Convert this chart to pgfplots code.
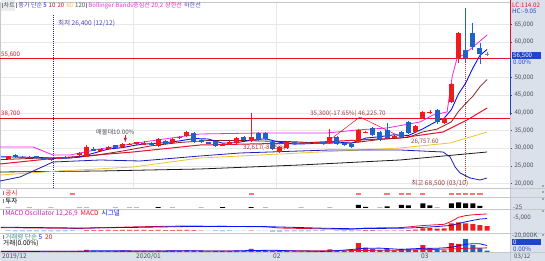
\documentclass[border=0pt]{standalone}
\usepackage{fontspec}
\setmainfont{Noto Sans CJK KR}
\usepackage{pgfplots}
\usepackage{pgfplotstable}
\pgfplotsset{compat=1.18}

\definecolor{stripbg}{HTML}{DAE1EB}
\definecolor{upred}{HTML}{EE1C1C}
\definecolor{dnblue}{HTML}{1F63C6}
\definecolor{ma5}{HTML}{0A14F0}
\definecolor{ma10}{HTML}{8A1E1E}
\definecolor{ma20}{HTML}{E8102A}
\definecolor{ma60}{HTML}{F2C230}
\definecolor{ma120}{HTML}{1A1A1A}
\definecolor{bbup}{HTML}{F028E6}
\definecolor{bblow}{HTML}{1E1EB4}
\definecolor{gridc}{HTML}{E8E8E8}
\definecolor{sepc}{HTML}{C4C8CC}
\definecolor{labc}{HTML}{4A525C}
\definecolor{boxc}{HTML}{1E46C8}
\definecolor{lowc}{HTML}{4848B8}
\definecolor{highc}{HTML}{A03C3C}
\definecolor{teal2}{HTML}{3C8C8C}

\newcommand\fs{\fontsize{6.6}{7}\selectfont}
\newcommand\fss{\fontsize{6.2}{7}\selectfont}
\newcommand\fh{\fontsize{6.1}{7}\selectfont}
\newcommand\bx{\textcolor{gray}{\rule[0.2pt]{1pt}{4.5pt}}\,}

\pgfplotstableread{
i o h l c
0 27000 27900 26900 27700
3 27400 27700 27200 27500
6 26800 27300 26400 27100
7 27100 27500 26900 27400
10 28000 29000 27900 28800
11 27600 30800 27400 30400
13 29300 30200 29100 29900
14 29700 30600 29500 30300
16 30400 31600 30200 31200
17 31000 31500 30800 31300
18 31100 31900 30900 31700
19 31000 32000 30800 31600
21 30700 33000 30500 32500
23 31600 33000 31400 32600
24 33000 33500 32600 33200
25 33500 34800 33300 34500
30 30800 31400 30600 31200
31 31200 32000 31000 31800
32 31500 33200 31300 32900
34 32000 40000 31800 33200
38 29000 30600 28700 30400
39 30100 32000 29900 31800
41 31300 31800 31100 31600
43 31400 31900 31200 31700
45 31500 35500 31300 33200
49 31800 35400 31600 35200
50 34500 35000 34300 34700
54 33000 33700 32800 33400
57 34600 36600 34400 36300
58 38600 40500 38400 40200
59 40000 40700 39800 40300
61 37200 38800 37000 38500
62 43100 48500 42800 48200
63 55500 62800 54100 62500
}\upT

\pgfplotstableread{
i o h l c
1 28100 28300 27200 27400
2 27600 27800 27300 27400
4 27800 27900 27000 27200
5 27300 27400 26800 27000
8 27500 27700 27100 27300
9 27600 27800 27200 27300
12 29900 30300 29100 29400
15 30800 31000 30000 30200
20 31600 31800 30700 30900
22 32000 32300 31000 31200
26 34300 34700 31600 31800
27 32400 32600 31500 31700
28 31700 31900 31200 31400
29 32000 32200 30500 30700
33 33200 33500 32200 32400
35 34300 34600 32200 32400
36 34300 34500 32300 32600
37 31800 32000 29600 29800
40 31700 31900 31100 31300
42 31600 31800 31200 31400
44 31700 31900 31300 31500
46 33200 33400 31000 31200
47 31500 31700 30700 30900
48 31200 31400 30200 30400
51 35700 36000 33600 33800
52 34600 34900 32000 32300
53 35200 37100 32700 32900
55 34600 34900 33000 33200
56 37400 37700 34100 34300
60 40800 41000 37000 37400
64 57800 69500 54500 55500
65 62500 65400 57800 58600
66 58300 59700 53900 56500
}\dnT

\pgfplotstableread{
i o h l c
67 56500 57300 56000 56600
}\djT

% volume (thousand shares)
\pgfplotstableread{
i v
0 900
3 500
6 700
7 600
10 1200
11 2500
13 900
14 1000
16 1500
17 1000
18 1100
19 1200
21 1600
23 1200
24 1300
25 1800
30 800
31 900
32 1200
34 3500
38 1300
39 1200
41 700
43 700
45 3000
49 10400
50 5000
54 1800
57 2600
58 8100
59 4600
61 1800
62 10400
63 9300
}\volUp
\pgfplotstableread{
i v
1 700
2 500
4 600
5 500
8 500
9 600
12 1200
15 900
20 1000
22 1100
26 1600
27 1000
28 800
29 900
33 1000
35 2200
36 1500
37 1600
40 800
42 600
44 700
46 2000
47 1200
48 1100
51 3200
52 2500
53 3400
55 3500
56 3500
60 2300
64 15000
65 8100
66 4600
67 1500
}\volDn

\begin{document}
\begin{tikzpicture}[x=1pt,y=1pt]
\useasboundingbox (0,0) rectangle (545,261);
\fill[white] (0,0) rectangle (545,261);
\fill[stripbg] (510,0) rectangle (545,261);
\fill[stripbg] (0,0) rectangle (510,9);

% ---------------- main price axis ----------------
\begin{axis}[at={(0pt,73pt)}, anchor=south west, scale only axis,
  width=510pt, height=186pt,
  xmin=-1.12, xmax=70.2, ymin=18785, ymax=71330,
  axis line style={draw=sepc, line width=0.4pt},
  xtick={17.5,37.5,57.5}, xticklabels={}, xmajorgrids,
  ytick={20000,25000,30000,35000,40000,45000,50000,60000,65000},
  scaled y ticks=false,
  ymajorgrids, grid style={gridc, line width=0.4pt},
  ytick pos=right, yticklabel pos=right,
  tick align=outside, major tick length=2pt,
  xtick style={draw=none},
  ytick style={labc, line width=0.4pt},
  yticklabel style={font=\fss, text=labc, anchor=west, xshift=-1pt},
  /pgf/number format/fixed, /pgf/number format/1000 sep={,},
  /pgf/number format/assume math mode=true,
  clip=true]

% guide lines
\addplot[draw=bblow, solid, dash pattern=on 0.8pt off 1.2pt, line width=0.6pt] coordinates {(6.29,18785)(6.29,67900)};
\addplot[draw=highc, dash pattern=on 0.8pt off 1.2pt, line width=0.6pt] coordinates {(64,20800)(64,54500)};
\addplot[draw=ma20, line width=1pt] coordinates {(-2,55400)(72,55400)};
\addplot[draw=ma20, line width=1.1pt] coordinates {(-2,38500)(72,38500)};

% moving averages
\addplot[draw=ma120, line width=0.8pt] coordinates {(-1.12,23305)(12.87,23588)(26.85,24153)(40.84,25283)(54.83,26695)(67,28955)};
\addplot[draw=ma60, line width=0.8pt] coordinates {(-1.12,22460)(4.9,23305)(17.48,24718)(26.85,27260)(40.84,28673)(54.83,30085)(61.82,31500)(67,34605)};
\addplot[draw=bblow, line width=0.8pt] coordinates {(-1.12,20763)(1.68,21893)(6.29,26130)(12.87,26695)(18.46,26413)(26.85,27825)(32.45,28673)(45.03,29520)(54.83,29520)(60.84,28955)(61.82,27543)(62.52,24718)(63.22,23023)(64.62,21610)(66.01,21045)(67,21610)};
\addplot[draw=ma20, line width=1pt] coordinates {(-1.12,25565)(6.29,27120)(17.48,28955)(26.85,30930)(40.84,31500)(54.83,32910)(60.84,34605)(64.2,37995)(67,41385)};
\addplot[draw=ma10, line width=0.8pt] coordinates {(-1,26800)(4,27200)(9,27300)(12,27940)(16,29220)(20,30690)(24,31640)(28,32190)(32,32230)(36,32030)(40,31860)(44,31450)(48,31500)(52,32490)(56,33110)(58,34630)(60,35410)(62,37470)(63,40430)(64,42640)(65,44700)(66,47400)(67,49420)};
\addplot[draw=bbup, line width=0.8pt] coordinates {(-1.12,30370)(3.5,30370)(6.29,28110)(8.67,28110)(12.87,29800)(19.86,32060)(26.85,34040)(35.24,34320)(44.62,34320)(48.81,35170)(53.01,35740)(57.62,37430)(59.44,39410)(61.4,40260)(62.1,50140)(62.8,55510)(63.64,56360)(65.03,58620)(67,62010)};
\addplot[draw=ma5, line width=0.9pt] coordinates {(-1,27600)(2,27500)(4,27440)(6,27240)(8,27200)(10,27580)(12,28640)(14,29760)(16,30200)(18,30940)(20,31340)(22,31580)(24,32080)(26,32760)(28,32620)(30,31460)(32,31600)(34,32300)(36,32700)(38,31680)(40,31180)(42,31300)(44,31500)(46,31800)(48,31440)(50,32880)(52,33280)(54,33820)(56,33620)(58,35480)(60,37700)(61,38540)(62,40920)(63,45380)(64,48420)(65,52660)(66,56260)(67,57920)};

% drawn trend lines
\addplot[draw=ma20, line width=0.5pt] coordinates {(44.06,30930)(49.2,38840)(55.24,32910)};

% candles: wicks
\addplot[draw=none, mark=none, forget plot, error bars/.cd, y dir=both, y explicit, error mark=none,
  error bar style={draw=upred, line width=0.7pt}]
  table[x=i, y expr={(\thisrow{h}+\thisrow{l})/2}, y error expr={(\thisrow{h}-\thisrow{l})/2}] {\upT};
\addplot[draw=none, mark=none, forget plot, error bars/.cd, y dir=both, y explicit, error mark=none,
  error bar style={draw=dnblue, line width=0.7pt}]
  table[x=i, y expr={(\thisrow{h}+\thisrow{l})/2}, y error expr={(\thisrow{h}-\thisrow{l})/2}] {\dnT};
\addplot[draw=none, mark=none, forget plot, error bars/.cd, y dir=both, y explicit, error mark=none,
  error bar style={draw=gray, line width=0.6pt}]
  table[x=i, y expr={(\thisrow{h}+\thisrow{l})/2}, y error expr={(\thisrow{h}-\thisrow{l})/2}] {\djT};
% candles: bodies
\addplot[draw=none, mark=none, forget plot, error bars/.cd, y dir=both, y explicit, error mark=none,
  error bar style={draw=upred, line width=5pt}]
  table[x=i, y expr={(\thisrow{o}+\thisrow{c})/2}, y error expr={max(abs(\thisrow{c}-\thisrow{o})/2,90)}] {\upT};
\addplot[draw=none, mark=none, forget plot, error bars/.cd, y dir=both, y explicit, error mark=none,
  error bar style={draw=dnblue, line width=5pt}]
  table[x=i, y expr={(\thisrow{o}+\thisrow{c})/2}, y error expr={max(abs(\thisrow{c}-\thisrow{o})/2,90)}] {\dnT};
\addplot[draw=none, mark=none, forget plot, error bars/.cd, y dir=both, y explicit, error mark=none,
  error bar style={draw=gray, line width=4pt}]
  table[x=i, y expr={(\thisrow{o}+\thisrow{c})/2}, y error expr={max(abs(\thisrow{c}-\thisrow{o})/2,60)}] {\djT};

% arrow annotation
\addplot[draw=ma20, line width=0.5pt, -latex] coordinates {(16.4,33700)(16.4,31700)};

% text annotations
\node[anchor=south west, font=\fss, text=ma20, inner sep=0.5pt] at (axis cs:-1.05,55500) {55,600};
\node[anchor=south west, font=\fss, text=ma20, inner sep=0.5pt] at (axis cs:-1.05,38700) {38,700};
\node[anchor=west, font=\fs, text=lowc, inner sep=0.5pt] at (axis cs:6.9,65300) {최저 26,400 (12/12)};
\node[anchor=west, font=\fs, text=highc, inner sep=0.5pt] at (axis cs:56.3,20200) {최고 68,500 (03/10)};
\node[anchor=south, font=\fss, text=labc, inner sep=0.5pt] at (axis cs:15.0,33700) {매물대10.00\%};
\node[anchor=south west, font=\fss, text=highc, inner sep=0.3pt] at (axis cs:42.2,38700) {35,300(-17.65\%)~46,225.70};
\node[anchor=west, font=\fss, text=highc, inner sep=0.3pt] at (axis cs:32.8,30300) {32,617(-8.65\%)};
\node[anchor=west, font=\fss, text=highc, inner sep=0.3pt] at (axis cs:56.3,31900) {26,757.60};
\end{axis}

% ---------------- 공시 row ----------------
\begin{axis}[at={(0pt,64pt)}, anchor=south west, scale only axis,
  width=510pt, height=9pt, xmin=-1.12, xmax=70.2, ymin=0, ymax=1, axis lines=none, clip=false]
\addplot[only marks, mark=-, mark size=2.6pt, mark options={line width=1.6pt, draw=upred!60}]
 coordinates {(9,0.3)(34,0.3)(49,0.3)(53,0.3)(55,0.3)(56,0.3)(58,0.3)(62,0.3)(63,0.3)(64,0.3)(65,0.3)(66,0.3)};
\end{axis}

% ---------------- 투자 row ----------------
\begin{axis}[at={(0pt,52pt)}, anchor=south west, scale only axis,
  width=510pt, height=12pt, xmin=-1.12, xmax=70.2, ymin=-1, ymax=11, axis lines=none, clip=false]
\addplot[ybar, bar width=5pt, bar shift=0pt, fill=gray!55, draw=none]
 coordinates {(0,0.8)(3,0.8)(6,0.8)(10,0.8)(11,0.8)(15,0.8)(17,0.8)(18,0.8)(23,0.8)(27,0.8)(36,0.8)(41,0.8)(45,0.8)(52,0.8)(60,0.8)};
\addplot[ybar, bar width=5pt, bar shift=0pt, fill=black, draw=none]
 coordinates {(21,0.8)(30,0.8)(34,0.8)(49,3)(50,1.2)(53,1.5)(55,3)(56,2.5)(58,4.5)(59,2.5)(62,4.5)(63,5.5)(64,4.5)(65,4.5)(66,2)};
\end{axis}

% ---------------- MACD ----------------
\begin{axis}[at={(0pt,28pt)}, anchor=south west, scale only axis,
  width=510pt, height=24pt, xmin=-1.12, xmax=70.2, ymin=-300, ymax=2600, axis lines=none, clip=true]
\addplot[ybar, bar width=5pt, bar shift=0pt, fill=upred, draw=none]
 coordinates {(11,40)(12,50)(13,60)(14,70)(15,60)(16,80)(17,80)(18,90)(19,80)(20,50)(21,70)(22,40)(23,60)(24,70)(25,90)(26,40)(27,10)(34,10)(49,30)(50,60)(51,50)(52,20)(53,20)(54,30)(55,20)(56,50)(57,120)(58,250)(59,300)(60,220)(61,250)(62,850)(63,970)(64,850)(65,780)(66,650)(67,530)};
\addplot[ybar, bar width=5pt, bar shift=0pt, fill=dnblue, draw=none]
 coordinates {(0,-50)(1,-60)(2,-70)(3,-70)(4,-80)(5,-80)(6,-70)(7,-60)(8,-60)(9,-50)(10,-20)(28,-20)(29,-50)(30,-60)(31,-50)(32,-20)(33,-20)(35,-20)(36,-20)(37,-90)(38,-100)(39,-70)(40,-70)(41,-60)(42,-60)(43,-50)(44,-50)(46,-30)(47,-60)(48,-80)};
\addplot[draw=ma20, line width=0.8pt] coordinates {(-1,350)(10,250)(18,450)(25,550)(30,500)(36,450)(38,300)(44,200)(48,150)(50,300)(55,350)(58,600)(60,700)(61,750)(62,1100)(63,1600)(64,1800)(65,1900)(66,1950)(67,2000)};
\addplot[draw=ma5, line width=0.8pt] coordinates {(-1,400)(10,300)(18,380)(25,480)(30,500)(36,470)(40,380)(44,280)(48,220)(52,250)(56,300)(58,380)(60,480)(62,620)(63,850)(64,1050)(65,1230)(66,1380)(67,1450)};
\end{axis}

% ---------------- volume ----------------
\begin{axis}[at={(0pt,9pt)}, anchor=south west, scale only axis,
  width=510pt, height=19pt, xmin=-1.12, xmax=70.2, ymin=0, ymax=22000, axis lines=none, clip=true]
\addplot[ybar, bar width=5pt, bar shift=0pt, fill=upred, draw=none] table[x=i,y=v] {\volUp};
\addplot[ybar, bar width=5pt, bar shift=0pt, fill=dnblue, draw=none] table[x=i,y=v] {\volDn};
\addplot[draw=ma20, line width=0.8pt] coordinates {(-1,900)(20,1000)(40,1300)(45,1300)(50,1800)(55,2200)(60,3000)(64,4200)(67,4800)};
\addplot[draw=ma5, line width=0.8pt] coordinates {(-1,700)(10,800)(12,1400)(20,1200)(26,1400)(30,1000)(34,1700)(37,2000)(40,1300)(44,700)(46,1500)(50,4300)(52,4500)(55,3000)(58,4300)(60,4300)(62,5400)(64,9000)(65,9500)(66,9500)(67,7500)};
\end{axis}

% ---------------- separators & strip decorations ----------------
\foreach \yy in {73,64,52,28,9} {\draw[sepc, line width=0.4pt] (0,\yy) -- (545,\yy);}
\draw[sepc, line width=0.4pt] (510,0) -- (510,261);
\draw[ma20, line width=1.3pt] (510.6,261) -- (510.6,203);
\draw[boxc, line width=1.3pt] (510.6,203) -- (510.6,146);

\node[anchor=west, font=\fss, text=ma20, inner sep=0pt] at (512,255.6) {LC:114.02};
\node[anchor=west, font=\fss, text=boxc, inner sep=0pt] at (512,249.6) {HC:-9.05};
\fill[boxc] (512,202.3) rectangle (541,209);
\node[anchor=west, font=\fss, text=white, inner sep=0pt] at (513,205.6) {56,500};
\node[anchor=west, font=\fss, text=boxc, inner sep=0pt] at (513,198.3) {0.00\%};

\node[anchor=west, font=\fss, text=labc, inner sep=0pt] at (513,54) {-25};
\node[anchor=west, font=\fss, text=labc, inner sep=0pt] at (513,43) {-5,000};
\node[anchor=west, font=\fss, text=labc, inner sep=0pt] at (512,25) {-20,000K};
\fill[boxc] (512,15.5) rectangle (541,21.5);
\node[anchor=west, font=\fss, text=white, inner sep=0pt] at (513,18.5) {0};
\node[anchor=west, font=\fss, text=boxc, inner sep=0pt] at (513,12.2) {0.00\%};
\node[anchor=west, font=\fss, text=labc, inner sep=0pt] at (514,4.5) {03/12};
\foreach \yy in {75,69,62,50,26} {\fill[gray!70] (541.5,\yy-1) rectangle (543.5,\yy+1);}

% header
\node[anchor=west, font=\fh, inner sep=0pt] at (1,255.5) {\colorbox{gray!15}{\hspace{-2.5pt}\bx\textcolor{labc}{차트}\hspace{-2.5pt}}\,\bx\textcolor{lowc}{종가 단순}\,\textcolor{ma5}{5}\,\,\textcolor{ma10}{10}\,\,\textcolor{ma20}{20}\,\,\textcolor{ma60}{60}\,\,\textcolor{gray!60!black}{120}\,\bx\textcolor{bbup}{Bollinger Bands중심선 20,2}\,\,\textcolor{bbup!70!red}{상한선}\,\,\textcolor{lowc}{하한선}};

% panel labels
\node[anchor=west, font=\fs, inner sep=0pt] at (3,67.8) {\bx\textcolor{upred}{공시}};
\node[anchor=west, font=\fs, inner sep=0pt] at (3,60) {\bx\textcolor{black}{투자}};
\node[anchor=west, font=\fs, inner sep=0pt] at (3,48) {\bx\textcolor{bbup!80!black}{MACD Oscillator 12,26,9}\ \ \textcolor{ma20}{MACD}\ \ \textcolor{ma5}{시그널}};
\node[anchor=west, font=\fs, inner sep=0pt] at (3,24) {\bx\textcolor{teal2}{거래량 단순}\ \textcolor{ma5}{5}\ \ \textcolor{ma20}{20}};
\node[anchor=west, font=\fs, inner sep=0pt] at (3,17.5) {\textcolor{black}{거래(0.00\%)}};

% date bar
\node[anchor=west, font=\fs, text=labc, inner sep=0pt] at (2,4.5) {2019/12};
\node[anchor=west, font=\fs, text=labc, inner sep=0pt] at (136,4.5) {2020/01};
\node[anchor=west, font=\fs, text=labc, inner sep=0pt] at (273,4.5) {02};
\node[anchor=west, font=\fs, text=labc, inner sep=0pt] at (421,4.5) {03};
\end{tikzpicture}
\end{document}
